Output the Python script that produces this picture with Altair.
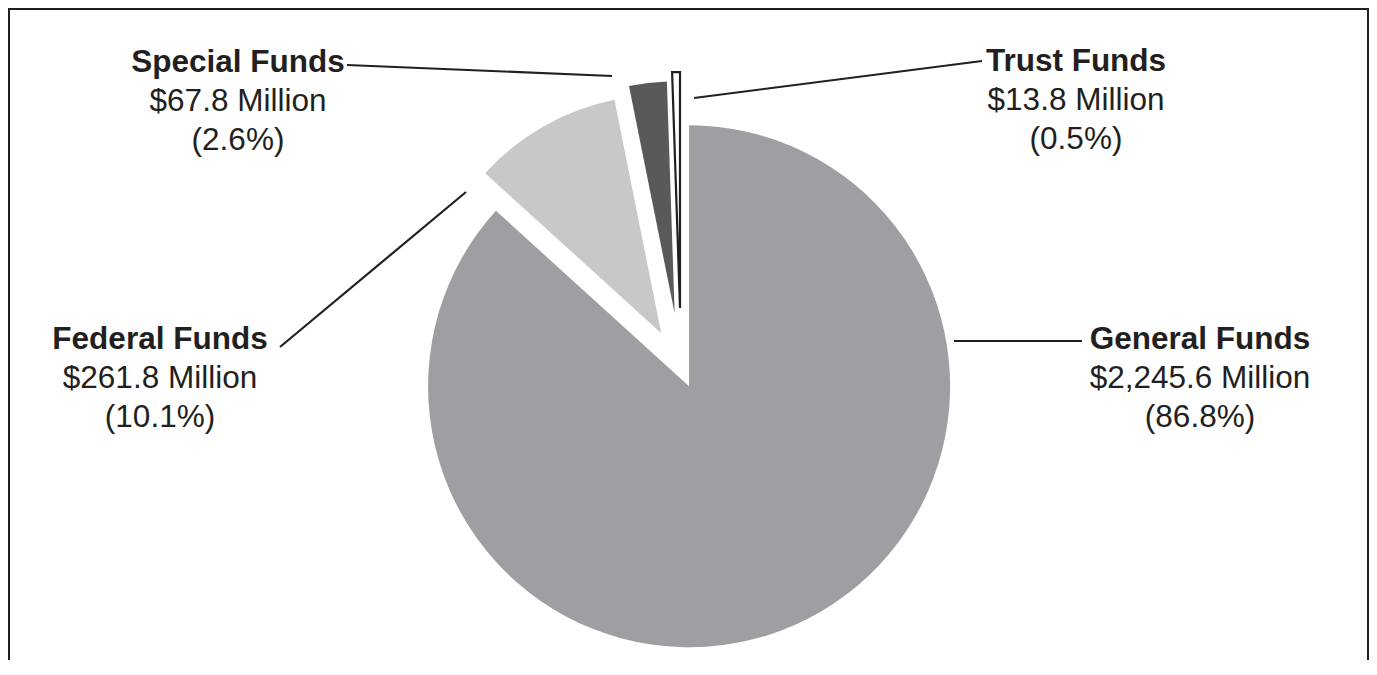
import altair as alt
import pandas as pd

# ---------------- data ----------------
CATEGORIES = ["General Funds", "Federal Funds", "Special Funds", "Trust Funds"]
VALUES = [2245.6, 261.8, 67.8, 13.8]          # $ millions
PERCENT_LABELS = [86.8, 10.1, 2.6, 0.5]        # printed shares

# ---------------- style / layout ----------------
COLORS = ["#9d9fa2", "#c7c8ca", "#58595b", "#ffffff"]
EXPLODE = [20, 40, 55, 60]        # px each slice is pulled out along its bisector
RADIUS = [261, 238, 232, 236]     # px
LABEL_X = [1192, 152, 230, 1068]  # label centre (chart px)
LABEL_Y = [341, 341, 63.5, 63]    # first-line baseline (chart px)
LEADERS = [(946, 333, 1074, 333), (272, 339, 458, 184), (339, 57, 604, 68), (974, 53, 686, 90)]

W, H = 1361, 652
CX, CY = 673, 360
LINE = 39
INK = "#231f20"
FONT = "Liberation Sans, Arial, Helvetica, sans-serif"
FS = 31.5

df = pd.DataFrame({
    "category": CATEGORIES,
    "value": VALUES,
    "order": list(range(len(CATEGORIES))),
    "amount": [f"${v:,.1f} Million" for v in VALUES],
    "pct": [f"({p:.1f}%)" for p in PERCENT_LABELS],
    "explode": EXPLODE,
    "r": RADIUS,
    "lx": LABEL_X,
    "ly": LABEL_Y,
    "ax": [l[0] for l in LEADERS],
    "ay": [l[1] for l in LEADERS],
    "bx": [l[2] for l in LEADERS],
    "by": [l[3] for l in LEADERS],
})

base = alt.Chart(df)

pie = (
    base.transform_window(cum="sum(value)", sort=[alt.SortField("order")], frame=[None, 0])
    .transform_joinaggregate(total="sum(value)")
    .transform_calculate(
        t1="2*PI*datum.cum/datum.total",
        t0="2*PI*(datum.cum-datum.value)/datum.total",
    )
    .transform_calculate(mid="(datum.t0+datum.t1)/2")
    .transform_calculate(
        cx=f"{CX} + datum.explode*sin(datum.mid)",
        cy=f"{CY} - datum.explode*cos(datum.mid)",
    )
    .mark_arc(stroke=INK, strokeJoin="miter")
    .encode(
        x=alt.X("cx:Q", scale=None, axis=None),
        y=alt.Y("cy:Q", scale=None, axis=None),
        theta=alt.Theta("t0:Q", scale=None, stack=False),
        theta2=alt.Theta2("t1:Q"),
        radius=alt.Radius("r:Q", scale=None),
        color=alt.Color("category:N", scale=alt.Scale(domain=CATEGORIES, range=COLORS), legend=None),
        strokeWidth=alt.condition("datum.category == 'Trust Funds'", alt.value(2.2), alt.value(0)),
    )
)

leaders = base.mark_rule(color=INK, strokeWidth=2.2).encode(
    x=alt.X("ax:Q", scale=None, axis=None),
    y=alt.Y("ay:Q", scale=None, axis=None),
    x2="bx:Q",
    y2="by:Q",
)

txt = dict(font=FONT, fontSize=FS, color=INK, align="center", baseline="alphabetic")

names = base.mark_text(fontWeight="bold", **txt).encode(
    x=alt.X("lx:Q", scale=None, axis=None),
    y=alt.Y("ly:Q", scale=None, axis=None),
    text="category:N",
)
amounts = base.transform_calculate(ly2=f"datum.ly + {LINE}").mark_text(**txt).encode(
    x=alt.X("lx:Q", scale=None, axis=None),
    y=alt.Y("ly2:Q", scale=None, axis=None),
    text="amount:N",
)
pcts = base.transform_calculate(ly3=f"datum.ly + {2 * LINE}").mark_text(**txt).encode(
    x=alt.X("lx:Q", scale=None, axis=None),
    y=alt.Y("ly3:Q", scale=None, axis=None),
    text="pct:N",
)

frame_src = alt.Chart(pd.DataFrame({"k": [0]}))
frame_top = frame_src.mark_rule(color=INK, strokeWidth=2).encode(
    x=alt.value(0), x2=alt.value(W), y=alt.value(1), y2=alt.value(1))
frame_left = frame_src.mark_rule(color=INK, strokeWidth=2).encode(
    x=alt.value(1), x2=alt.value(1), y=alt.value(0), y2=alt.value(H))
frame_right = frame_src.mark_rule(color=INK, strokeWidth=2).encode(
    x=alt.value(W - 1), x2=alt.value(W - 1), y=alt.value(0), y2=alt.value(H))

chart = (
    alt.layer(frame_top, frame_left, frame_right, pie, leaders, names, amounts, pcts)
    .properties(width=W, height=H, autosize=alt.AutoSizeParams(type="none"), padding=0)
    .configure_view(stroke=None, strokeWidth=0)
    .configure(background="white")
)

chart.save("out.html", embed_options={"renderer": "svg", "actions": False})
